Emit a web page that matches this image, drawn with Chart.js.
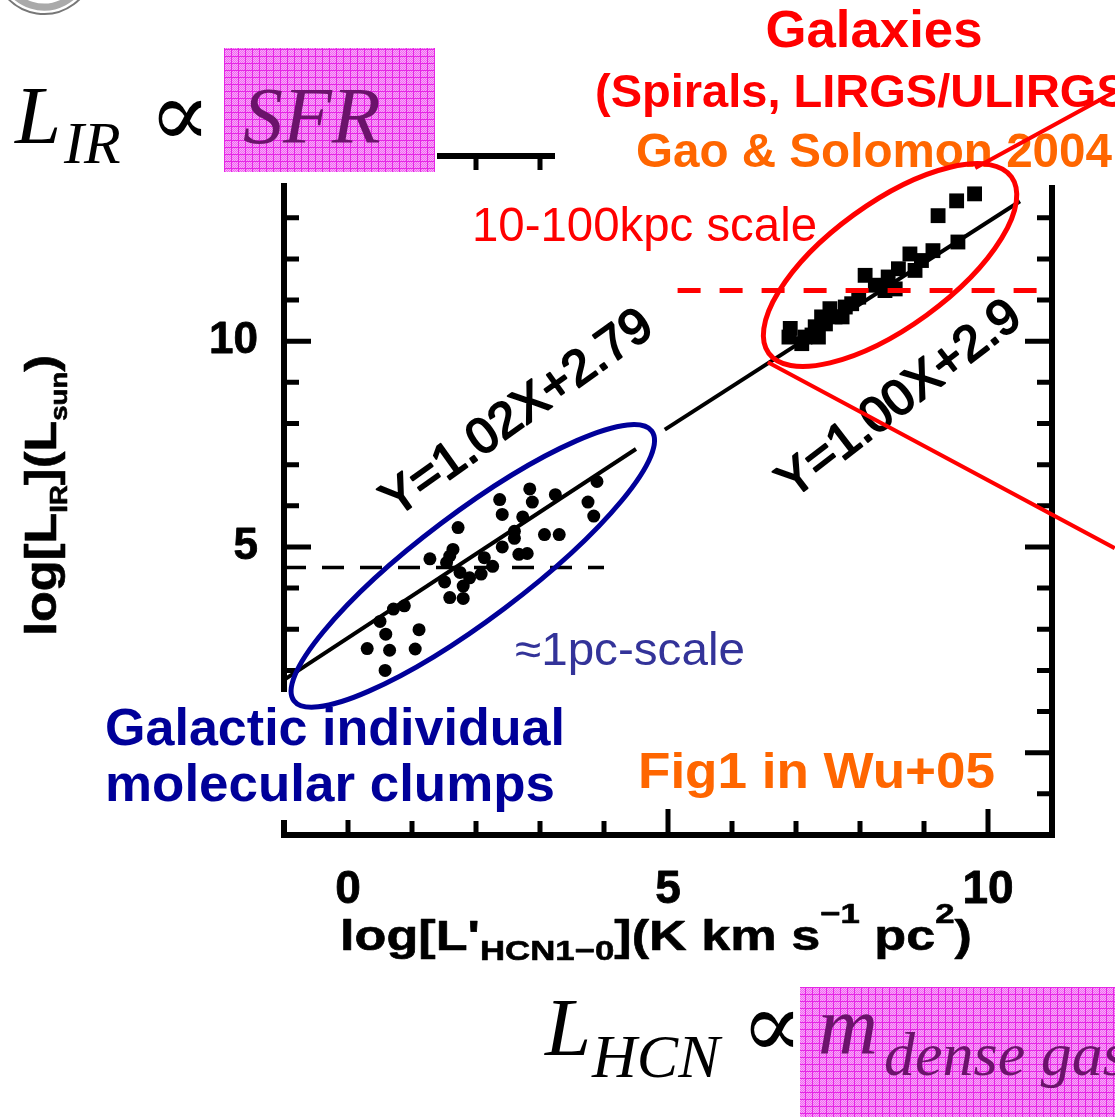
<!DOCTYPE html>
<html>
<head>
<meta charset="utf-8">
<script src="https://cdn.jsdelivr.net/npm/chart.js@4.4.0/dist/chart.umd.min.js"></script>
<style>
  html, body { margin: 0; padding: 0; background: #fff; }
  #wrap { width: 1115px; height: 1117px; }
</style>
</head>
<body>
<div id="wrap"><canvas id="hcnChart" width="1115" height="1117"></canvas></div>
<script>
const clumpX = [0.58, 0.30, 0.65, 1.05, 0.59, 1.11, 0.50, 0.71, 0.88, 1.59, 1.80, 1.51, 1.80, 1.90, 1.75, 1.28, 1.59, 1.64, 1.72, 2.13,
                2.26, 2.41, 2.60, 2.80, 2.67, 2.41, 2.37, 2.73, 2.84, 2.88, 3.07, 3.30, 3.24, 3.75, 3.84, 3.89, 1.54, 2.08, 2.60];
const clumpY = [2.00, 2.53, 2.49, 2.52, 2.88, 2.99, 3.19, 3.49, 3.57, 3.77, 3.75, 4.15, 4.05, 4.25, 4.38, 4.71, 4.78, 4.94, 5.47, 4.74,
                4.53, 5.00, 5.21, 4.84, 4.82, 5.79, 6.15, 5.73, 6.41, 6.09, 5.30, 5.30, 6.27, 6.09, 5.75, 6.59, 4.62, 4.34, 5.38];

// Galaxies of Gao & Solomon 2004 (filled squares)
const galaxyX = [9.79, 9.51, 9.22, 9.53, 9.14, 8.96, 8.78, 8.86, 8.60, 8.44, 8.08, 8.24, 8.39, 7.98, 7.77, 7.53, 7.40, 7.30, 7.25, 7.46,
                 7.61, 7.14, 6.91, 6.89, 7.09, 7.72, 7.87, 7.35, 8.55];
const galaxyY = [13.58, 13.41, 13.05, 12.41, 12.20, 11.96, 12.12, 11.72, 11.76, 11.56, 11.60, 11.36, 11.23, 11.07, 10.83, 10.79, 10.59, 10.35, 10.15, 10.42,
                 10.59, 10.10, 10.31, 10.10, 9.94, 10.59, 10.91, 10.10, 11.27];

// fit lines and the dashed cut-offs (end points)
const clumpFitX = [-1, 4.5];
const clumpFitY = [1.77, 7.38];
const galaxyFitX = [4.95, 10.5];
const galaxyFitY = [7.85, 13.4];
const clumpCutX = [-1, 4.0];
const clumpCutY = [4.5, 4.5];
const galaxyCutX = [5.15, 10.95];
const galaxyCutY = [11.23, 11.23];

const xTickLabels = [0, 5, 10];
const yTickLabels = [5, 10];

const SANS = '"Liberation Sans", Arial, Helvetica, sans-serif';
const SERIF = '"Liberation Serif", "Times New Roman", "DejaVu Serif", serif';

const pairs = (xs, ys) => xs.map((x, i) => ({ x: x, y: ys[i] }));

// draws a row of text runs, optionally squeezed/stretched to a width and rotated
function runs(ctx, parts, x, y, opt) {
    opt = opt || {};
    ctx.save();
    ctx.translate(x, y);
    if (opt.angle) ctx.rotate(opt.angle * Math.PI / 180);
    let total = 0;
    parts.forEach(p => { ctx.font = p.font; p.w = ctx.measureText(p.text).width; total += p.w; });
    const s = opt.width ? opt.width / total : 1;
    ctx.scale(s, 1);
    ctx.textAlign = 'left';
    ctx.textBaseline = opt.baseline || 'alphabetic';
    let cx = opt.align === 'center' ? -total / 2 : 0;
    parts.forEach(p => {
        ctx.font = p.font;
        ctx.fillStyle = p.color || opt.color || '#000';
        ctx.fillText(p.text, cx, p.dy || 0);
        if (opt.stroke) {
            ctx.lineWidth = opt.stroke;
            ctx.lineJoin = 'round';
            ctx.strokeStyle = ctx.fillStyle;
            ctx.strokeText(p.text, cx, p.dy || 0);
        }
        cx += p.w;
    });
    ctx.restore();
}

function text(ctx, str, x, y, font, color, opt) {
    runs(ctx, [{ text: str, font: font }], x, y, Object.assign({ color: color }, opt || {}));
}

function pinkPattern(ctx) {
    const c = document.createElement('canvas');
    c.width = 7; c.height = 7;
    const p = c.getContext('2d');
    p.fillStyle = '#f9a8f9';
    p.fillRect(0, 0, 7, 7);
    p.fillStyle = '#f068f0';
    for (let i = 0; i < 7; i++) {
        for (let j = 0; j < 7; j++) {
            if ((i + j) % 2 === 0) p.fillRect(i, j, 1, 1);
        }
    }
    p.fillStyle = '#e526e5';
    p.fillRect(0, 0, 7, 1);
    p.fillRect(0, 0, 1, 7);
    return ctx.createPattern(c, 'repeat');
}

// box with inward ticks, plus tick labels and axis titles
const frameAxes = {
    id: 'frameAxes',
    beforeDatasetsDraw(chart) {
        const { ctx, chartArea: a, scales: { x, y } } = chart;
        ctx.save();
        ctx.strokeStyle = '#000';
        ctx.lineJoin = 'miter';
        ctx.lineWidth = 6;
        ctx.strokeRect(a.left, a.top, a.right - a.left, a.bottom - a.top);

        ctx.lineWidth = 5;
        ctx.beginPath();
        for (let v = Math.ceil(x.min) + 1; v < x.max; v++) {
            const px = x.getPixelForValue(v);
            const len = v % 5 === 0 ? 26 : 14;
            ctx.moveTo(px, a.bottom); ctx.lineTo(px, a.bottom - len);
            ctx.moveTo(px, a.top); ctx.lineTo(px, a.top + len);
        }
        for (let v = Math.ceil(y.min) + 1; v < y.max; v++) {
            const py = y.getPixelForValue(v);
            const len = v % 5 === 0 ? 27 : 15;
            ctx.moveTo(a.left, py); ctx.lineTo(a.left + len, py);
            ctx.moveTo(a.right, py); ctx.lineTo(a.right - len, py);
        }
        ctx.stroke();

        xTickLabels.forEach(v => text(ctx, String(v), x.getPixelForValue(v), 903, 'bold 46px ' + SANS, '#000', { align: 'center', stroke: 0.8 }));
        yTickLabels.forEach(v => {
            ctx.font = 'bold 44px ' + SANS;
            const w = ctx.measureText(String(v)).width;
            text(ctx, String(v), 258 - w, y.getPixelForValue(v), 'bold 44px ' + SANS, '#000', { baseline: 'middle', stroke: 0.8 });
        });

        // x title
        const big = 'bold 42px ' + SANS, small = 'bold 28px ' + SANS;
        runs(ctx, [
            { text: "log[L'", font: big },
            { text: 'HCN1\u22120', font: small, dy: 10 },
            { text: '](K km s', font: big },
            { text: '\u22121', font: small, dy: -27 },
            { text: ' pc', font: big },
            { text: '2', font: small, dy: -27 },
            { text: ')', font: big }
        ], 340, 950, { width: 632, stroke: 0.6 });

        // y title
        const ybig = 'bold 44px ' + SANS, ysmall = 'bold 24px ' + SANS;
        runs(ctx, [
            { text: 'log[L', font: ybig },
            { text: 'IR', font: ysmall, dy: 11 },
            { text: '](L', font: ybig },
            { text: 'sun', font: ysmall, dy: 11 },
            { text: ')', font: ybig }
        ], 56, 636, { angle: -90, width: 281, stroke: 0.6 });
        ctx.restore();
    }
};

// slide annotations drawn over the figure
const slideNotes = {
    id: 'slideNotes',
    afterDraw(chart) {
        const { ctx, scales: { x, y } } = chart;
        ctx.save();

        // white text panels of the slide
        ctx.fillStyle = '#fff';
        ctx.fillRect(0, 0, 437, 183);
        ctx.fillRect(555, 0, 560, 185);
        ctx.fillRect(95, 692, 480, 128);

        // bit of the institute seal in the corner
        ctx.beginPath();
        ctx.arc(44, -36, 50, 0.15, Math.PI - 0.15);
        ctx.strokeStyle = '#777';
        ctx.lineWidth = 2;
        ctx.stroke();
        ctx.beginPath();
        ctx.arc(44, -36, 43, 0.3, Math.PI - 0.3);
        ctx.strokeStyle = '#aaa';
        ctx.lineWidth = 7;
        ctx.stroke();

        // pink highlight boxes
        ctx.fillStyle = pinkPattern(ctx);
        ctx.fillRect(224, 48, 211, 124);
        ctx.fillRect(800, 987, 315, 130);

        const purple = '#6b136b';
        // L_IR ∝ SFR
        text(ctx, 'L', 15, 143, 'italic 83px ' + SERIF, '#000');
        text(ctx, 'IR', 64, 163, 'italic 60px ' + SERIF, '#000');
        text(ctx, '\u221D', 180, 122, '92px ' + SERIF, '#000', { align: 'center', baseline: 'middle' });
        text(ctx, 'SFR', 243, 143, 'italic 80px ' + SERIF, purple);
        // L_HCN ∝ m_dense gas
        text(ctx, 'L', 545, 1055, 'italic 83px ' + SERIF, '#000');
        text(ctx, 'HCN', 592, 1077, 'italic 62px ' + SERIF, '#000');
        text(ctx, '\u221D', 772, 1033, '92px ' + SERIF, '#000', { align: 'center', baseline: 'middle' });
        text(ctx, 'm', 818, 1053, 'italic 83px ' + SERIF, purple);
        text(ctx, 'dense gas', 884, 1075, 'italic 62px ' + SERIF, purple);

        // headings
        text(ctx, 'Galaxies', 874, 47, 'bold 52px ' + SANS, '#ff0000', { align: 'center', width: 217 });
        text(ctx, '(Spirals, LIRGS/ULIRGS)', 595, 107, 'bold 47px ' + SANS, '#ff0000');
        text(ctx, 'Gao & Solomon 2004', 636, 167, 'bold 48px ' + SANS, '#ff6600', { width: 476 });
        text(ctx, '10-100kpc scale', 472, 241, '48px ' + SANS, '#ff0000', { width: 345 });
        text(ctx, '\u22481pc-scale', 515, 665, '46px ' + SANS, '#333399', { width: 230 });
        text(ctx, 'Galactic individual', 335, 745, 'bold 52px ' + SANS, '#000099', { align: 'center', width: 460 });
        text(ctx, 'molecular clumps', 330, 801, 'bold 52px ' + SANS, '#000099', { align: 'center', width: 450 });
        text(ctx, 'Fig1 in Wu+05', 638, 788, 'bold 50px ' + SANS, '#ff6600', { width: 357 });

        // fit equations, slanted along the lines
        text(ctx, 'Y=1.02X+2.79', 518, 414, '50px ' + SANS, '#000', { align: 'center', baseline: 'middle', angle: -35.5, stroke: 2 });
        text(ctx, 'Y=1.00X+2.9', 900, 400, '50px ' + SANS, '#000', { align: 'center', baseline: 'middle', angle: -37.5, stroke: 2 });

        // ellipses round the two groups
        ctx.lineWidth = 5;
        ctx.strokeStyle = '#000099';
        ctx.beginPath();
        ctx.ellipse(x.getPixelForValue(1.95), y.getPixelForValue(4.54), 224, 53, -37 * Math.PI / 180, 0, 2 * Math.PI);
        ctx.stroke();
        ctx.strokeStyle = '#ff0000';
        ctx.beginPath();
        ctx.ellipse(x.getPixelForValue(8.47), y.getPixelForValue(11.85), 150, 62, -36 * Math.PI / 180, 0, 2 * Math.PI);
        ctx.stroke();

        // red leader lines off to the right
        ctx.lineWidth = 4;
        ctx.beginPath();
        ctx.moveTo(x.getPixelForValue(9.80), y.getPixelForValue(14.21));
        ctx.lineTo(x.getPixelForValue(11.98), y.getPixelForValue(16.06));
        ctx.moveTo(x.getPixelForValue(6.56), y.getPixelForValue(9.49));
        ctx.lineTo(x.getPixelForValue(11.98), y.getPixelForValue(4.97));
        ctx.stroke();

        ctx.restore();
    }
};

const ctx = document.getElementById('hcnChart').getContext('2d');
const hcnChart = new Chart(ctx, {
    type: 'scatter',
    data: {
        datasets: [
            {
                label: 'galaxy cut',
                type: 'line',
                data: pairs(galaxyCutX, galaxyCutY),
                borderColor: '#ff0000',
                borderWidth: 5,
                borderDash: [23, 19],
                pointRadius: 0,
                order: 0
            },
            {
                label: 'clump cut',
                type: 'line',
                data: pairs(clumpCutX, clumpCutY),
                borderColor: '#000',
                borderWidth: 3.5,
                borderDash: [22, 16],
                pointRadius: 0,
                order: 1
            },
            {
                label: 'clump fit',
                type: 'line',
                data: pairs(clumpFitX, clumpFitY),
                borderColor: '#000',
                borderWidth: 4,
                pointRadius: 0,
                order: 2
            },
            {
                label: 'galaxy fit',
                type: 'line',
                data: pairs(galaxyFitX, galaxyFitY),
                borderColor: '#000',
                borderWidth: 4,
                pointRadius: 0,
                order: 2
            },
            {
                label: 'Galactic clumps',
                data: pairs(clumpX, clumpY),
                pointStyle: 'circle',
                pointRadius: 6.5,
                backgroundColor: '#000',
                borderWidth: 0,
                order: 3
            },
            {
                label: 'Galaxies',
                data: pairs(galaxyX, galaxyY),
                pointStyle: 'rect',
                pointRadius: 10.5,
                backgroundColor: '#000',
                borderWidth: 0,
                order: 3
            }
        ]
    },
    options: {
        responsive: false,
        animation: false,
        events: [],
        layout: { padding: { left: 284, right: 63, top: 156, bottom: 282 } },
        plugins: {
            legend: { display: false },
            tooltip: { enabled: false }
        },
        scales: {
            x: { type: 'linear', min: -1, max: 11, display: false },
            y: { type: 'linear', min: -2, max: 14.5, display: false }
        }
    },
    plugins: [frameAxes, slideNotes]
});
</script>
</body>
</html>
